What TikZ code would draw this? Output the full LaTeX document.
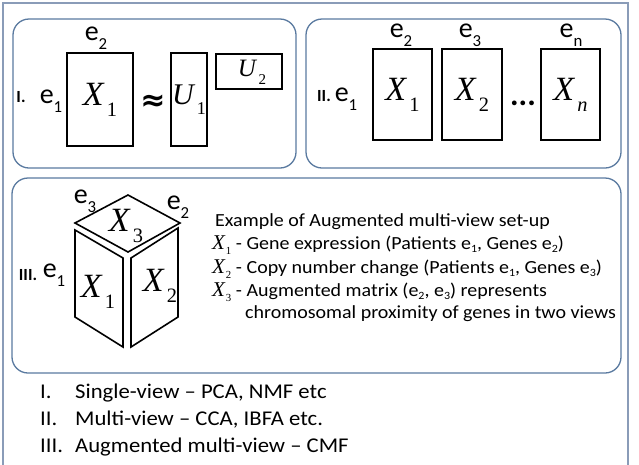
\documentclass[tikz,border=0pt]{standalone}
\usepackage{fontspec}
\setmainfont{Carlito}
\newfontfamily\wide[FakeStretch=1.08,Ligatures=TeX]{Carlito}
\newfontfamily\tnr{Liberation Serif}
\newfontfamily\djv{DejaVu Sans}
\definecolor{outerc}{HTML}{8A9CB8}
\definecolor{panelc}{HTML}{5A7AA0}
\newcommand\fs[1]{\fontsize{#1}{#1}\selectfont}
\newcommand\lowsub[1]{\raisebox{-0.32em}{\scalebox{0.6}{#1}}}
\newcommand\tsub[1]{\raisebox{-0.18em}{\scalebox{0.6}{#1}}}
\newcommand\mX[2]{{\tnr\itshape #1}\kern0.1em\lowsub{\tnr #2}}
\newcommand\eL[1]{e\lowsub{#1}}
\newcommand\sX[1]{{\fs{21}\tnr\itshape X}\kern0.05em\lowsub{\fs{18}\tnr #1}\kern0.25em}
\tikzset{
  panel/.style={draw=panelc, line width=1.3pt, rounded corners=16pt, fill=white},
  mbox/.style={draw=black, line width=1.8pt, inner sep=0pt},
  elab/.style={inner sep=0pt, font=\fs{28}},
  bigx/.style={inner sep=0pt, font=\fs{34}},
  roman/.style={inner sep=0pt, font=\fs{17}\bfseries},
  txt/.style={inner sep=0pt, anchor=base west, font=\wide\fs{18.5}},
  lst/.style={inner sep=0pt, anchor=base west, font=\wide\fs{21}},
  cube/.style={draw=black, line width=1.6pt, line join=miter}
}
\begin{document}
\begin{tikzpicture}[x=1pt,y=-1pt]
\useasboundingbox (0,0) rectangle (639,464);
\fill[white] (0,0) rectangle (639,464);
\draw[outerc, line width=1.6pt] (3,480) -- (3,3) -- (628,3) -- (628,480);
% panels
\draw[panel] (13,19) rectangle (296,168);
\draw[panel] (306,19) rectangle (621,168);
\draw[panel] (12,178) rectangle (621,373);
% panel I
\node[roman] (r1) at (21,97) {I.};
\node[elab] (p1e1) at (51,101) {\eL{1}};
\node[mbox, minimum width=66pt, minimum height=93pt] (p1x1) at (100,99.5) {};
\node[elab] (p1e2) at (96,38) {\eL{2}};
\node[bigx] (p1x1t) at (p1x1) {\mX{X}{1}};
\node[inner sep=0pt, font=\djv\bfseries\fs{30}] (approx) at (153,103) {≈};
\node[mbox, minimum width=36pt, minimum height=93pt] (u1) at (189,99.5) {};
\node[inner sep=0pt, font=\fs{30}] (u1t) at (u1) {\mX{U}{1}};
\node[mbox, minimum width=66pt, minimum height=35pt] (u2) at (249,71.5) {};
\node[inner sep=0pt, font=\fs{25}] (u2t) at (252,72) {\mX{U}{2}};
% panel II
\node[roman] (r2) at (324,96) {II.};
\node[elab] (p2e1) at (346,99) {\eL{1}};
\node[mbox, minimum width=59pt, minimum height=91pt] (p2x1) at (402.5,94.5) {};
\node[mbox, minimum width=60pt, minimum height=91pt] (p2x2) at (472,94.5) {};
\node[mbox, minimum width=59pt, minimum height=91pt] (p2xn) at (570.5,94.5) {};
\node[bigx] at (p2x1) {\mX{X}{1}};
\node[bigx] at (p2x2) {\mX{X}{2}};
\node[bigx] at (p2xn) {\mX{X}{\itshape n}};
\node[elab] (p2e2) at (401,35) {\eL{2}};
\node[elab] (p2e3) at (470,35) {\eL{3}};
\node[elab] (p2en) at (571,35) {\eL{n}};
\node[inner sep=0pt, font=\fs{32}\bfseries] (dots) at (523,103) {...};
% panel III cube
\draw[cube] (75,223) -- (128,195) -- (180,223) -- (128,252) -- cycle;
\draw[cube] (75,230) -- (123,258) -- (123,347) -- (75,317) -- cycle;
\draw[cube] (131,258) -- (178,228) -- (178,317) -- (131,347) -- cycle;
\node[bigx] (c3) at (126,226) {\mX{X}{3}};
\node[bigx] (c1) at (98,292) {\mX{X}{1}};
\node[bigx] (c2) at (160,286) {\mX{X}{2}};
\node[elab] (c3e) at (85,201) {\eL{3}};
\node[elab] (c2e) at (178,207) {\eL{2}};
\node[roman] (r3) at (28,275) {III.};
\node[elab] (p3e1) at (54,275) {\eL{1}};
% example text
\node[txt] (t0) at (215,226) {Example of Augmented multi-view set-up};
\node[txt] (t1) at (212,249) {\sX{1}- Gene expression (Patients e\tsub{1}, Genes e\tsub{2})};
\node[txt] (t2) at (212,273) {\sX{2}- Copy number change (Patients e\tsub{1}, Genes e\tsub{3})};
\node[txt] (t3) at (212,296) {\sX{3}- Augmented matrix (e\tsub{2}, e\tsub{3}) represents};
\node[txt] (t4) at (245,318) {chromosomal proximity of genes in two views};
% list
\node[lst] (l1) at (40,398) {I.};
\node[lst] (l1t) at (75,398) {Single-view – PCA, NMF etc};
\node[lst] (l2) at (40,425) {II.};
\node[lst] (l2t) at (75,425) {Multi-view – CCA, IBFA etc.};
\node[lst] (l3) at (40,452) {III.};
\node[lst] (l3t) at (75,452) {Augmented multi-view – CMF};
\end{tikzpicture}
\end{document}
